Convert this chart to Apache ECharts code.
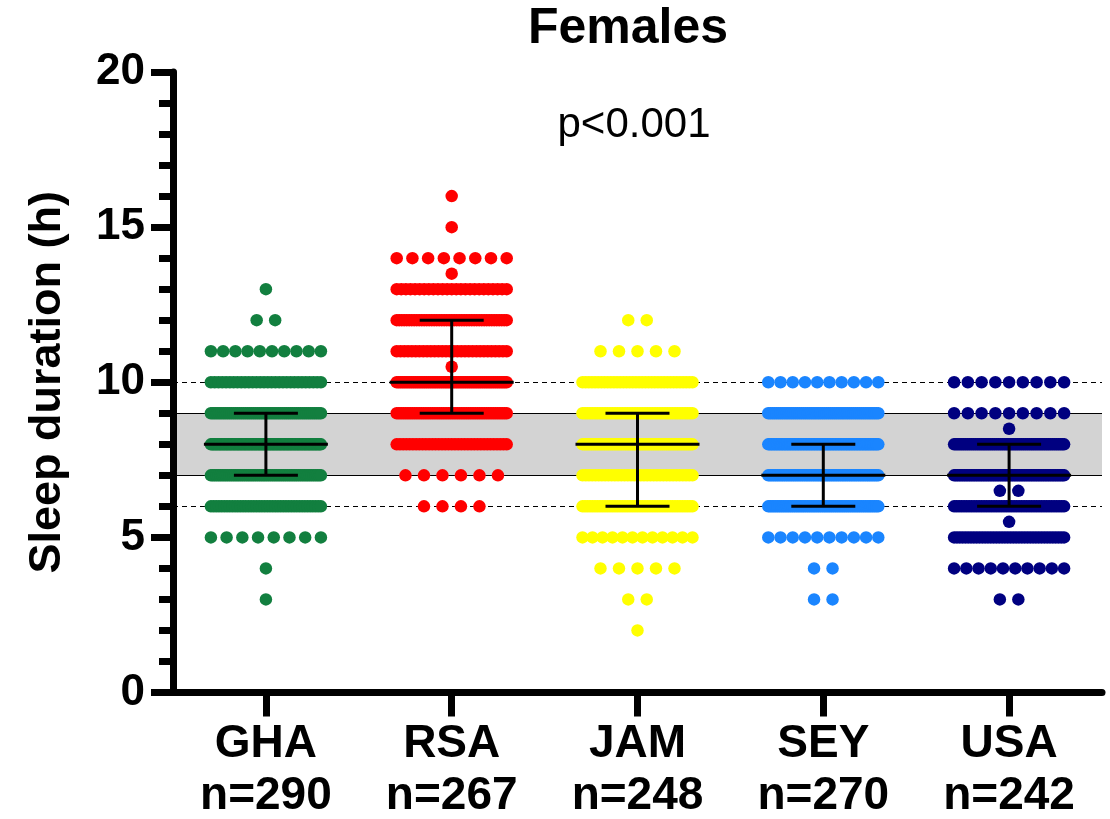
<!DOCTYPE html>
<html>
<head>
<meta charset="utf-8">
<script src="https://cdn.jsdelivr.net/npm/echarts@6/dist/echarts.min.js"></script>
<style>
  html, body { margin: 0; padding: 0; background: #fff; }
  #chart { width: 1110px; height: 819px; }
</style>
</head>
<body>
<div id="chart"></div>
<script>
// Sleep duration per country, females: hours reported and how many women reported each.
const categories = ['GHA', 'RSA', 'JAM', 'SEY', 'USA'];
const sampleSizes = [290, 267, 248, 270, 242];
const colors = ['#127f3f', '#ff0000', '#ffff00', '#1a85ff', '#000080'];

const ghaHours  = [3, 4, 5, 6, 7, 8, 9, 10, 11, 12, 13];
const ghaCounts = [1, 1, 8, 42, 60, 80, 55, 30, 10, 2, 1];

const rsaHours  = [6, 7, 8, 9, 10, 10.5, 11, 12, 13, 13.5, 14, 15, 16];
const rsaCounts = [4, 6, 35, 50, 60, 1, 30, 45, 25, 1, 8, 1, 1];

const jamHours  = [2, 3, 4, 5, 6, 7, 8, 9, 10, 11, 12];
const jamCounts = [1, 2, 5, 12, 45, 35, 60, 45, 36, 5, 2];

const seyHours  = [3, 4, 5, 6, 7, 8, 9, 10];
const seyCounts = [2, 2, 10, 60, 62, 70, 54, 10];

const usaHours  = [3, 4, 5, 5.5, 6, 6.5, 7, 8, 8.5, 9, 10];
const usaCounts = [2, 10, 40, 1, 45, 2, 65, 58, 1, 9, 9];

const groupHours  = [ghaHours, rsaHours, jamHours, seyHours, usaHours];
const groupCounts = [ghaCounts, rsaCounts, jamCounts, seyCounts, usaCounts];

// Reference bands: recommended 7-9 h (shaded), acceptable 6 and 10 h (dashed).
const recommendedRange = [7, 9];
const acceptableBounds = [6, 10];
const pValueText = 'p<0.001';

const FONT = '"Liberation Sans", Arial, Helvetica, sans-serif';
const DOT_SIZE = 12.5;     // dot diameter, px
const ROW_SPREAD = 110;    // widest spread of dot centres in one row, px
const ROW_STEP = 18.5;     // preferred gap between dot centres, px

// Horizontal pixel offsets for the dots of one row (a simple column scatter layout).
function rowOffsets(count) {
  const step = count > 1 ? Math.min(ROW_STEP, ROW_SPREAD / (count - 1)) : 0;
  const out = [];
  for (let i = 0; i < count; i++) out.push((i - (count - 1) / 2) * step);
  return out;
}

function dotsFor(groupIndex, hours, counts) {
  const out = [];
  hours.forEach((h, k) => {
    rowOffsets(counts[k]).forEach(dx => {
      out.push({ value: [groupIndex, h], symbolOffset: [dx, 0] });
    });
  });
  return out;
}

// Median and interquartile range from the tallied values.
function quartiles(hours, counts) {
  const s = [];
  hours.forEach((h, k) => { for (let i = 0; i < counts[k]; i++) s.push(h); });
  s.sort((a, b) => a - b);
  const n = s.length;
  const q = p => {
    let pos = p * (n + 1);
    pos = Math.min(Math.max(pos, 1), n);
    const lo = Math.floor(pos), frac = pos - lo;
    const a = s[lo - 1], b = s[Math.min(lo, n - 1)];
    return a + frac * (b - a);
  };
  return [q(0.25), q(0.5), q(0.75)];
}

const summary = categories.map((c, i) => [i].concat(quartiles(groupHours[i], groupCounts[i])));

const chart = echarts.init(document.getElementById('chart'), null, { renderer: 'canvas' });

const dashed = { color: '#000', width: 1, type: [5, 4] };
const solid = { color: '#000', width: 1.2, type: 'solid' };

const series = [
  {
    // carries the shaded band and the reference lines, drawn beneath the dots
    type: 'scatter',
    data: [],
    silent: true,
    markArea: {
      silent: true,
      z: 0,
      itemStyle: { color: '#d3d3d3' },
      label: { show: false },
      data: [[{ yAxis: recommendedRange[0] }, { yAxis: recommendedRange[1] }]]
    },
    markLine: {
      silent: true,
      z: 1,
      symbol: ['none', 'none'],
      label: { show: false },
      data: [
        { yAxis: acceptableBounds[0], lineStyle: dashed },
        { yAxis: acceptableBounds[1], lineStyle: dashed },
        { yAxis: recommendedRange[0], lineStyle: solid },
        { yAxis: recommendedRange[1], lineStyle: solid }
      ]
    }
  }
];

categories.forEach((c, i) => {
  series.push({
    name: c,
    type: 'scatter',
    z: 3,
    symbol: 'circle',
    symbolSize: DOT_SIZE,
    itemStyle: { color: colors[i], opacity: 1 },
    emphasis: { disabled: true },
    data: dotsFor(i, groupHours[i], groupCounts[i])
  });
});

// Median line with interquartile whiskers
series.push({
  type: 'custom',
  z: 5,
  silent: true,
  encode: { x: 0, y: [1, 2, 3] },
  data: summary,
  renderItem: function (params, api) {
    const x = api.value(0);
    const p1 = api.coord([x, api.value(1)]);
    const pm = api.coord([x, api.value(2)]);
    const p3 = api.coord([x, api.value(3)]);
    const st = { stroke: '#000', lineWidth: 3 };
    const medHalf = 62, capHalf = 32;
    return {
      type: 'group',
      children: [
        { type: 'line', shape: { x1: p1[0], y1: p1[1], x2: p3[0], y2: p3[1] }, style: st },
        { type: 'line', shape: { x1: pm[0] - medHalf, y1: pm[1], x2: pm[0] + medHalf, y2: pm[1] }, style: st },
        { type: 'line', shape: { x1: p1[0] - capHalf, y1: p1[1], x2: p1[0] + capHalf, y2: p1[1] }, style: st },
        { type: 'line', shape: { x1: p3[0] - capHalf, y1: p3[1], x2: p3[0] + capHalf, y2: p3[1] }, style: st }
      ]
    };
  }
});

chart.setOption({
  animation: false,
  backgroundColor: '#fff',
  grid: { left: 173, right: 8, top: 72, bottom: 126.5, containLabel: false, outerBoundsMode: 'none' },
  xAxis: {
    type: 'category',
    z: 10,
    data: categories.map((c, i) => c + '\nn=' + sampleSizes[i]),
    boundaryGap: true,
    axisLine: { show: true, lineStyle: { color: '#000', width: 7 } },
    axisTick: { show: true, alignWithLabel: true, length: 24, lineStyle: { color: '#000', width: 7 } },
    axisLabel: {
      margin: 26,
      color: '#000',
      fontFamily: FONT,
      fontWeight: 'bold',
      fontSize: 46,
      lineHeight: 52
    },
    splitLine: { show: false }
  },
  yAxis: {
    type: 'value',
    z: 10,
    min: 0,
    max: 20,
    interval: 5,
    name: 'Sleep duration (h)',
    nameLocation: 'middle',
    nameRotate: 90,
    nameGap: 103,
    nameTextStyle: { color: '#000', fontFamily: FONT, fontWeight: 'bold', fontSize: 45 },
    axisLine: { show: true, lineStyle: { color: '#000', width: 7 } },
    axisTick: { show: true, length: 22, lineStyle: { color: '#000', width: 7 } },
    minorTick: { show: true, splitNumber: 5, length: 14, lineStyle: { color: '#000', width: 7 } },
    axisLabel: { margin: 28, color: '#000', fontFamily: FONT, fontWeight: 'bold', fontSize: 44 },
    splitLine: { show: false },
    minorSplitLine: { show: false }
  },
  graphic: [
    {
      type: 'text', x: 628, y: 4, z: 20,
      style: { text: 'Females', font: 'bold 50px ' + FONT, fill: '#000', align: 'center', verticalAlign: 'top' }
    },
    {
      type: 'text', x: 634, y: 104, z: 20,
      style: { text: pValueText, font: '42px ' + FONT, fill: '#000', align: 'center', verticalAlign: 'top' }
    }
  ],
  series: series
});
</script>
</body>
</html>
